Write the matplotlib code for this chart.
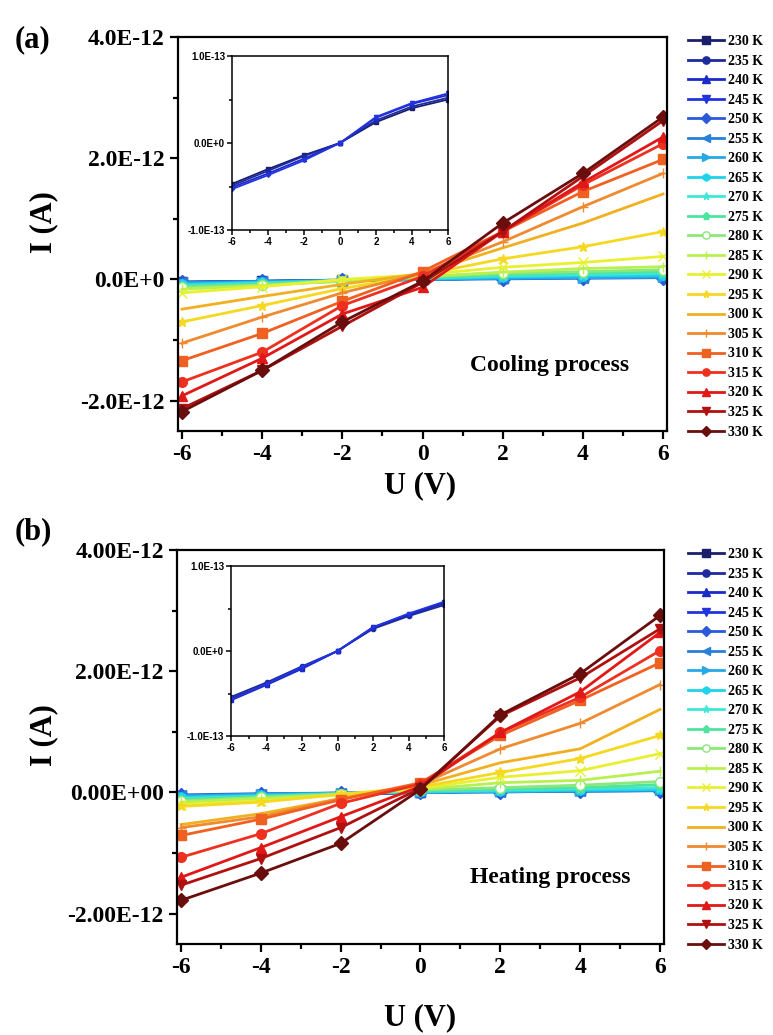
import matplotlib
matplotlib.use("Agg")
import matplotlib.pyplot as plt
from matplotlib.ticker import MultipleLocator

# ---- data ----
U = [-6, -4, -2, 0, 2, 4, 6]
temps = [230, 235, 240, 245, 250, 255, 260, 265, 270, 275, 280,
         285, 290, 295, 300, 305, 310, 315, 320, 325, 330]
tempLabels = [f"{t} K" for t in temps]

# current in units of 1E-12 A, one row per temperature
cooling = [
    [-0.047, -0.030, -0.014, 0.0, 0.024, 0.040, 0.050],
    [-0.049, -0.032, -0.015, 0.0, 0.026, 0.042, 0.052],
    [-0.051, -0.035, -0.018, 0.0, 0.029, 0.045, 0.055],
    [-0.053, -0.037, -0.020, 0.0, 0.030, 0.046, 0.057],
    [-0.04, -0.03, -0.01, 0.0, 0.01, 0.02, 0.03],
    [-0.05, -0.03, -0.01, 0.0, 0.02, 0.03, 0.04],
    [-0.06, -0.04, -0.02, 0.0, 0.02, 0.03, 0.04],
    [-0.08, -0.05, -0.02, 0.01, 0.04, 0.06, 0.07],
    [-0.10, -0.06, -0.02, 0.02, 0.06, 0.08, 0.10],
    [-0.12, -0.08, -0.03, 0.03, 0.08, 0.11, 0.13],
    [-0.13, -0.09, -0.03, 0.04, 0.10, 0.13, 0.16],
    [-0.16, -0.10, -0.02, 0.05, 0.12, 0.18, 0.21],
    [-0.22, -0.12, 0.00, 0.08, 0.20, 0.28, 0.38],
    [-0.70, -0.43, -0.15, 0.08, 0.34, 0.54, 0.79],
    [-0.49, -0.28, -0.08, 0.10, 0.52, 0.93, 1.41],
    [-1.05, -0.62, -0.22, 0.10, 0.62, 1.20, 1.75],
    [-1.34, -0.89, -0.36, 0.13, 0.79, 1.45, 1.98],
    [-1.69, -1.20, -0.43, 0.05, 0.79, 1.56, 2.24],
    [-1.92, -1.30, -0.57, -0.13, 0.79, 1.60, 2.35],
    [-2.13, -1.50, -0.77, -0.05, 0.79, 1.70, 2.62],
    [-2.18, -1.50, -0.70, -0.03, 0.93, 1.75, 2.68],
]
heating = [
    [-0.056, -0.039, -0.020, 0.0, 0.027, 0.042, 0.056],
    [-0.054, -0.037, -0.018, 0.0, 0.026, 0.041, 0.054],
    [-0.058, -0.040, -0.021, 0.0, 0.028, 0.043, 0.057],
    [-0.057, -0.039, -0.019, 0.0, 0.028, 0.044, 0.058],
    [-0.04, -0.02, -0.01, 0.0, 0.01, 0.02, 0.03],
    [-0.05, -0.03, -0.01, 0.0, 0.01, 0.02, 0.03],
    [-0.06, -0.03, -0.01, 0.0, 0.02, 0.03, 0.04],
    [-0.08, -0.05, -0.02, 0.01, 0.02, 0.04, 0.05],
    [-0.10, -0.06, -0.02, 0.02, 0.04, 0.06, 0.08],
    [-0.12, -0.07, -0.02, 0.03, 0.06, 0.08, 0.13],
    [-0.14, -0.08, -0.03, 0.04, 0.08, 0.12, 0.18],
    [-0.16, -0.10, -0.03, 0.05, 0.16, 0.20, 0.35],
    [-0.20, -0.14, -0.04, 0.07, 0.25, 0.36, 0.64],
    [-0.23, -0.16, -0.03, 0.09, 0.33, 0.56, 0.94],
    [-0.53, -0.35, -0.10, 0.12, 0.49, 0.72, 1.37],
    [-0.58, -0.40, -0.10, 0.13, 0.72, 1.14, 1.78],
    [-0.71, -0.44, -0.12, 0.16, 0.94, 1.52, 2.14],
    [-1.07, -0.68, -0.18, 0.14, 0.99, 1.57, 2.34],
    [-1.40, -0.91, -0.40, 0.10, 0.99, 1.66, 2.64],
    [-1.53, -1.09, -0.58, 0.07, 1.26, 1.89, 2.70],
    [-1.78, -1.33, -0.84, 0.05, 1.28, 1.96, 2.92],
]

# inset: 230-245 K in units of 1E-13 A
insetTemps = [230, 235, 240, 245]
insetCooling = [
    [-0.47, -0.30, -0.14, 0.0, 0.24, 0.40, 0.50],
    [-0.49, -0.32, -0.15, 0.0, 0.26, 0.42, 0.52],
    [-0.51, -0.35, -0.18, 0.0, 0.29, 0.45, 0.55],
    [-0.53, -0.37, -0.20, 0.0, 0.30, 0.46, 0.57],
]
insetHeating = [
    [-0.56, -0.39, -0.20, 0.0, 0.27, 0.42, 0.56],
    [-0.54, -0.37, -0.18, 0.0, 0.26, 0.41, 0.54],
    [-0.58, -0.40, -0.21, 0.0, 0.28, 0.43, 0.57],
    [-0.57, -0.39, -0.19, 0.0, 0.28, 0.44, 0.58],
]

coolingTicks = ["-2.0E-12", "0.0E+0", "2.0E-12", "4.0E-12"]
heatingTicks = ["-2.00E-12", "0.00E+00", "2.00E-12", "4.00E-12"]
insetTicks = ["-1.0E-13", "0.0E+0", "1.0E-13"]

# ---- styles ----
colors = ["#1b1f6b", "#1f2a9e", "#1a2acb", "#2233e0", "#2b5ad9", "#2a80d8",
          "#27a9e6", "#1fd3e8", "#3de8d6", "#4fe3a0", "#8ae87a", "#b8f050",
          "#e8f030", "#f5d820", "#f0b020", "#f08a30", "#f06020", "#ee3020",
          "#e01818", "#b01010", "#6a0d0d"]
markers = ["s", "o", "^", "v", "D", "<", ">", "h", "*", "p", "o",
           "|", "x", "*", "", "+", "s", "o", "^", "v", "D"]

W, H = 773, 1035
SERIF = "Liberation Serif"
SANS = "Liberation Sans"


def fx(x):
    return x / W


def fy(y):
    return 1 - y / H


def Rect(left, top, right, bottom):
    return [fx(left), fy(bottom), (right - left) / W, (bottom - top) / H]


def StyleAxes(ax, width, major, minor):
    for side in ["left", "bottom", "top", "right"]:
        ax.spines[side].set_linewidth(width)
    ax.tick_params(which="major", direction="out", length=major, width=width,
                   top=False, right=False)
    ax.tick_params(which="minor", direction="out", length=minor, width=width,
                   top=False, right=False)


def DrawPanel(fig, box, insetBox, data, insetData, yTicks, tag, tagY,
              process, processY, xlabelY, legendTop):
    left, top, right, bottom = box
    ax = fig.add_axes(Rect(*box))
    handles = []
    for i, row in enumerate(data):
        mfc = "white" if temps[i] == 280 else colors[i]
        line, = ax.plot(U, [v * 1e-12 for v in row], color=colors[i],
                        marker=markers[i], markersize=7, linewidth=2.0,
                        markerfacecolor=mfc, markeredgecolor=colors[i],
                        label=tempLabels[i])
        handles.append(line)

    ax.set_xlim(-6.1, 6.1)
    ax.set_ylim(-2.5e-12, 4.0e-12)
    ax.set_xticks(U)
    ax.set_xticklabels([str(u) for u in U])
    ax.xaxis.set_minor_locator(MultipleLocator(1))
    ax.set_yticks([-2e-12, 0, 2e-12, 4e-12])
    ax.set_yticklabels(yTicks)
    ax.yaxis.set_minor_locator(MultipleLocator(1e-12))
    StyleAxes(ax, 1.6, 6, 3.5)
    for lab in ax.get_xticklabels() + ax.get_yticklabels():
        lab.set_fontfamily(SERIF)
        lab.set_fontweight("bold")
        lab.set_fontsize(17)

    fig.text(fx(420), fy(xlabelY), "U (V)", ha="center", va="center",
             fontsize=22, fontweight="bold", family=SERIF)
    fig.text(fx(44), fy((top + bottom) / 2 - 12), "I (A)",
             ha="center", va="center", rotation=90,
             fontsize=22, fontweight="bold", family=SERIF)
    fig.text(fx(33), fy(tagY), tag, ha="center", va="center",
             fontsize=22, fontweight="bold", family=SERIF)
    fig.text(fx(550), fy(processY), process, ha="center", va="center",
             fontsize=17, fontweight="bold", family=SERIF)

    fig.legend(handles=handles, loc="upper left",
               bbox_to_anchor=(fx(688), fy(legendTop)),
               bbox_transform=fig.transFigure, frameon=False,
               prop={"family": SERIF, "weight": "bold", "size": 10},
               handlelength=2.6, handletextpad=0.25, labelspacing=0.47,
               borderpad=0, borderaxespad=0, markerscale=0.75)

    ins = fig.add_axes(Rect(*insetBox))
    for j, row in enumerate(insetData):
        i = temps.index(insetTemps[j])
        ins.plot(U, [v * 1e-13 for v in row], color=colors[i],
                 marker=markers[i], markersize=3, linewidth=1.3)
    ins.set_xlim(-6, 6)
    ins.set_ylim(-1e-13, 1e-13)
    ins.set_xticks(U)
    ins.set_xticklabels([str(u) for u in U])
    ins.xaxis.set_minor_locator(MultipleLocator(1))
    ins.set_yticks([-1e-13, 0, 1e-13])
    ins.set_yticklabels(insetTicks)
    ins.yaxis.set_minor_locator(MultipleLocator(0.5e-13))
    StyleAxes(ins, 1.1, 3.5, 2)
    for lab in ins.get_xticklabels() + ins.get_yticklabels():
        lab.set_fontfamily(SANS)
        lab.set_fontweight("bold")
        lab.set_fontsize(7)
    ins.tick_params(pad=1.5)
    return ax


fig = plt.figure(figsize=(W / 100, H / 100), dpi=100)

DrawPanel(fig, (178, 37, 667, 431), (232, 56, 448, 230),
          cooling, insetCooling, coolingTicks, "(a)", 40,
          "Cooling process", 365, 486, 35)
DrawPanel(fig, (177, 550, 664, 944), (231, 566, 444, 736),
          heating, insetHeating, heatingTicks, "(b)", 532,
          "Heating process", 878, 1018, 548)

fig.savefig("out.png", dpi=100)
